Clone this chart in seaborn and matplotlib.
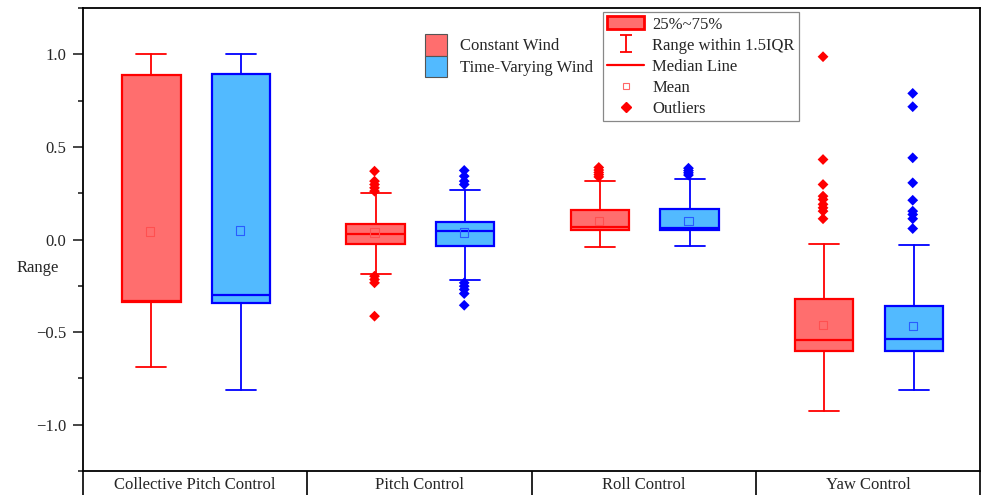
import numpy as np
import pandas as pd
import seaborn as sns
import matplotlib.pyplot as plt
from matplotlib.patches import Patch
from matplotlib.lines import Line2D

# categories / groups
categories = ["Collective Pitch Control", "Pitch Control", "Roll Control", "Yaw Control"]
winds = ["Constant Wind", "Time-Varying Wind"]

# box statistics (Constant Wind)
const_whislo = [-0.690, -0.186, -0.041, -0.924]
const_q1 = [-0.335, -0.023, 0.050, -0.600]
const_med = [-0.330, 0.032, 0.065, -0.541]
const_q3 = [0.888, 0.086, 0.158, -0.319]
const_whishi = [1.000, 0.249, 0.315, -0.022]
const_mean = [0.043, 0.037, 0.099, -0.463]

# box statistics (Time-Varying Wind)
tv_whislo = [-0.812, -0.216, -0.036, -0.811]
tv_q1 = [-0.342, -0.036, 0.050, -0.600]
tv_med = [-0.301, 0.045, 0.063, -0.535]
tv_q3 = [0.894, 0.094, 0.162, -0.357]
tv_whishi = [1.000, 0.267, 0.328, -0.031]
tv_mean = [0.049, 0.037, 0.099, -0.468]

# outliers
const_out_collective = []
tv_out_collective = []
const_out_pitch = [0.369, 0.315, 0.297, 0.279, 0.261, -0.198, -0.216, -0.234, -0.414]
tv_out_pitch = [0.373, 0.342, 0.315, 0.297, -0.234, -0.252, -0.270, -0.292, -0.355]
const_out_roll = [0.389, 0.375, 0.362, 0.350, 0.338]
tv_out_roll = [0.385, 0.372, 0.360, 0.348]
const_out_yaw = [0.987, 0.432, 0.297, 0.234, 0.216, 0.190, 0.171, 0.153, 0.112]
tv_out_yaw = [0.789, 0.717, 0.441, 0.306, 0.212, 0.153, 0.135, 0.112, 0.059]

red_face, red_edge = "#ff6e6e", "#ff0000"
blue_face, blue_edge = "#52baff", "#0000ff"

sns.set_style("ticks")
plt.rcParams["font.family"] = ["Liberation Serif", "DejaVu Serif"]
plt.rcParams["font.size"] = 12

# long-form tables for seaborn
rows = []
outs = {
    ("Constant Wind", 0): const_out_collective, ("Time-Varying Wind", 0): tv_out_collective,
    ("Constant Wind", 1): const_out_pitch, ("Time-Varying Wind", 1): tv_out_pitch,
    ("Constant Wind", 2): const_out_roll, ("Time-Varying Wind", 2): tv_out_roll,
    ("Constant Wind", 3): const_out_yaw, ("Time-Varying Wind", 3): tv_out_yaw,
}
for (w, i), vals in outs.items():
    for v in vals:
        rows.append({"category": categories[i], "wind": w, "value": v})
df_out = pd.DataFrame(rows)

df_mean = pd.DataFrame({
    "category": categories * 2,
    "wind": [winds[0]] * 4 + [winds[1]] * 4,
    "value": const_mean + tv_mean,
})

fig = plt.figure(figsize=(9.84, 4.95), dpi=100)
ax = fig.add_axes([83 / 984, 24 / 495, 897 / 984, 463 / 495])

# outliers
sns.stripplot(data=df_out, x="category", y="value", hue="wind", order=categories,
              hue_order=winds, dodge=True, jitter=False, palette=[red_edge, blue_edge],
              marker="D", size=5.5, linewidth=0, legend=False, zorder=4, ax=ax)

# means (hollow squares)
n0 = len(ax.collections)
sns.stripplot(data=df_mean, x="category", y="value", hue="wind", order=categories,
              hue_order=winds, dodge=True, jitter=False, palette=["#ff5050", "#2a5cff"],
              marker="s", size=6, linewidth=0, legend=False, zorder=4, ax=ax)
for coll in ax.collections[n0:]:
    fc = coll.get_facecolors()
    coll.set_edgecolors(fc)
    coll.set_facecolor("none")
    coll.set_linewidth(0.8)

# boxes
for stats_src, off, fc, ec in [
    ((const_whislo, const_q1, const_med, const_q3, const_whishi), -0.195, red_face, red_edge),
    ((tv_whislo, tv_q1, tv_med, tv_q3, tv_whishi), 0.205, blue_face, blue_edge),
]:
    lo, q1, med, q3, hi = stats_src
    stats = [{"whislo": lo[i], "q1": q1[i], "med": med[i], "q3": q3[i],
              "whishi": hi[i], "fliers": []} for i in range(len(categories))]
    ax.bxp(stats, positions=[i + off for i in range(len(categories))], widths=0.26,
           capwidths=0.134, patch_artist=True, showfliers=False, manage_ticks=False,
           boxprops=dict(facecolor=fc, edgecolor=ec, linewidth=1.6),
           whiskerprops=dict(color=ec, linewidth=1.3),
           capprops=dict(color=ec, linewidth=1.3),
           medianprops=dict(color=ec, linewidth=1.6), zorder=2)

ax.set_xlim(-0.5, 3.5)
ax.set_ylim(-1.25, 1.25)

# x axis: category cells below the plot
ax.set_xticks([-0.5, 0.5, 1.5, 2.5, 3.5], labels=[""] * 5)
ax.set_xticks([0, 1, 2, 3], labels=categories, minor=True)
ax.tick_params(axis="x", which="major", direction="out", length=17.5, width=1.2, color="black")
ax.tick_params(axis="x", which="minor", length=0, pad=4.5, labelsize=12)
ax.set_xlabel("")

# y axis
ax.set_yticks([-1.0, -0.5, 0.0, 0.5, 1.0])
ax.set_yticks(np.arange(-1.25, 1.26, 0.25), minor=True)
ax.tick_params(axis="y", which="major", direction="out", length=7, width=1.2, pad=5, labelsize=12)
ax.tick_params(axis="y", which="minor", direction="out", length=3.5, width=1.2)
ax.set_ylabel("Range", rotation=0, fontsize=12, ha="center", va="center")
ax.yaxis.set_label_coords(-0.051, 0.438)

for s in ax.spines.values():
    s.set_visible(True)
    s.set_color("black")
    s.set_linewidth(1.3)

# legend for the two wind cases
leg1 = ax.legend(
    [Patch(facecolor=red_face, edgecolor="#555555", linewidth=0.8),
     Patch(facecolor=blue_face, edgecolor="#555555", linewidth=0.8)],
    winds, loc="upper left", bbox_to_anchor=(0.381, 0.943), frameon=False,
    handlelength=1.35, handleheight=1.58, labelspacing=0, handletextpad=0.75,
    borderpad=0, borderaxespad=0, fontsize=12)
ax.add_artist(leg1)

# legend for box elements
err = ax.errorbar([np.nan], [np.nan], yerr=[0.1], fmt="none", ecolor=red_edge,
                  elinewidth=1.3, capsize=4.5, capthick=1.3)
handles2 = [
    Patch(facecolor=red_face, edgecolor=red_edge, linewidth=2),
    err,
    Line2D([], [], color=red_edge, linewidth=1.6),
    Line2D([], [], ls="none", marker="s", mfc="none", mec="#ff6666", ms=5, mew=0.8),
    Line2D([], [], ls="none", marker="D", color=red_edge, ms=5),
]
labels2 = ["25%~75%", "Range within 1.5IQR", "Median Line", "Mean", "Outliers"]
leg2 = ax.legend(handles2, labels2, loc="upper left", bbox_to_anchor=(0.580, 0.991),
                 fancybox=False, framealpha=1, edgecolor="#888888", borderaxespad=0,
                 handlelength=2.2, handleheight=0.8, labelspacing=0.3, handletextpad=0.5,
                 borderpad=0.25, fontsize=12)
leg2.get_frame().set_linewidth(0.9)

fig.savefig("out.png", dpi=100)
